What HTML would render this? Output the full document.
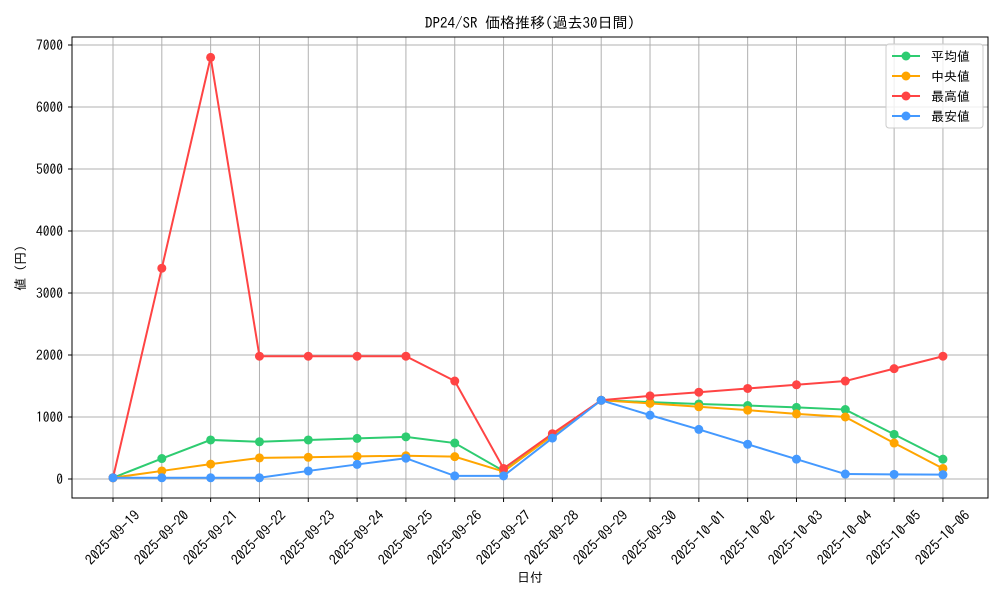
<!DOCTYPE html>
<html><head><meta charset="utf-8"><style>
body{margin:0;background:#fff}
svg text{font-family:"IPAGothic","Liberation Sans","Noto Sans CJK JP",sans-serif;font-size:13px;fill:#000}
#xl text{font-size:14px}
#yl text{font-size:13.5px}
</style></head><body>
<svg id="s" width="1000" height="600" xmlns="http://www.w3.org/2000/svg">
<rect width="1000" height="600" fill="#fff"/>
<g id="grid" stroke="#b0b0b0" stroke-width="1"></g>
<rect x="72" y="37" width="916" height="461" fill="none" stroke="#000" stroke-width="1"/>
<g id="series"></g>
<text x="530" y="28" text-anchor="middle" style="font-size:15px">DP24/SR 価格推移(過去30日間)</text>
<g id="yl" text-anchor="end">
<text x="63" y="484">0</text>
<text x="63" y="422">1000</text>
<text x="63" y="360">2000</text>
<text x="63" y="298">3000</text>
<text x="63" y="236">4000</text>
<text x="63" y="174">5000</text>
<text x="63" y="112">6000</text>
<text x="63" y="50">7000</text>
</g>
<text transform="translate(25,268) rotate(-90)" text-anchor="middle">値 (円)</text>
<text x="530" y="582" text-anchor="middle">日付</text>
<g id="xl" text-anchor="middle">
<text transform="translate(116,541) rotate(-45)">2025-09-19</text>
<text transform="translate(165,541) rotate(-45)">2025-09-20</text>
<text transform="translate(214,541) rotate(-45)">2025-09-21</text>
<text transform="translate(262,541) rotate(-45)">2025-09-22</text>
<text transform="translate(311,541) rotate(-45)">2025-09-23</text>
<text transform="translate(360,541) rotate(-45)">2025-09-24</text>
<text transform="translate(409,541) rotate(-45)">2025-09-25</text>
<text transform="translate(458,541) rotate(-45)">2025-09-26</text>
<text transform="translate(507,541) rotate(-45)">2025-09-27</text>
<text transform="translate(555,541) rotate(-45)">2025-09-28</text>
<text transform="translate(604,541) rotate(-45)">2025-09-29</text>
<text transform="translate(653,541) rotate(-45)">2025-09-30</text>
<text transform="translate(702,541) rotate(-45)">2025-10-01</text>
<text transform="translate(751,541) rotate(-45)">2025-10-02</text>
<text transform="translate(799,541) rotate(-45)">2025-10-03</text>
<text transform="translate(848,541) rotate(-45)">2025-10-04</text>
<text transform="translate(897,541) rotate(-45)">2025-10-05</text>
<text transform="translate(946,541) rotate(-45)">2025-10-06</text>
</g>
<rect x="886" y="44" width="97" height="84" rx="3" fill="#fff" fill-opacity="0.8" stroke="#ccc"/>
<g id="leg"></g>
<text x="931" y="61">平均値</text>
<text x="931" y="81">中央値</text>
<text x="931" y="101">最高値</text>
<text x="931" y="121">最安値</text>
<script>
var ns="http://www.w3.org/2000/svg";
function el(p,t,a){var e=document.createElementNS(ns,t);for(var k in a)e.setAttribute(k,a[k]);p.appendChild(e);return e;}
var X=function(i){return 113+48.82*i},Y=function(v){return 479-0.062*v};
var g=document.getElementById('grid');
for(var i=0;i<18;i++){el(g,'line',{x1:X(i),x2:X(i),y1:37,y2:498});el(g,'line',{x1:X(i),x2:X(i),y1:498,y2:502,stroke:'#000'});}
for(var v=0;v<=7000;v+=1000){el(g,'line',{x1:72,x2:988,y1:Y(v),y2:Y(v)});el(g,'line',{x1:68,x2:72,y1:Y(v),y2:Y(v),stroke:'#000'});}
var D=[
['#2ecc71',[20,330,630,600,630,655,680,580,130,700,1270,1240,1210,1185,1155,1120,720,320]],
['#ffa500',[20,130,240,340,350,365,375,360,120,700,1270,1220,1165,1110,1050,1000,580,170]],
['#ff4444',[20,3400,6800,1980,1980,1980,1980,1580,170,730,1270,1340,1400,1460,1520,1580,1780,1980]],
['#4499ff',[20,20,20,20,130,235,335,50,50,660,1270,1030,800,560,320,80,75,70]]];
var s=document.getElementById('series'),L=document.getElementById('leg');
D.forEach(function(d,k){
 var pts=d[1].map(function(v,i){return X(i)+','+Y(v)}).join(' ');
 el(s,'polyline',{points:pts,fill:'none',stroke:d[0],'stroke-width':2});
 d[1].forEach(function(v,i){el(s,'circle',{cx:X(i),cy:Y(v),r:4.5,fill:d[0]});});
 var y=56+20*k;
 el(L,'line',{x1:892,x2:920,y1:y,y2:y,stroke:d[0],'stroke-width':2});
 el(L,'circle',{cx:906,cy:y,r:4.5,fill:d[0]});
});
</script>
</svg>
</body></html>
